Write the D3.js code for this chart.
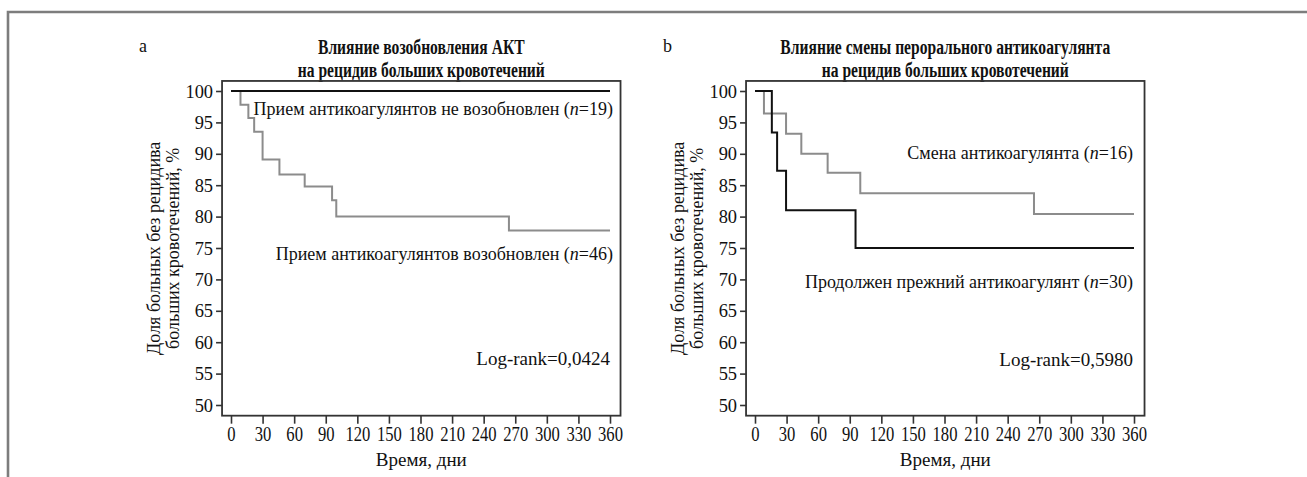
<!DOCTYPE html>
<html><head><meta charset="utf-8">
<script src="https://cdn.jsdelivr.net/npm/d3@7"></script>
<style>
html,body{margin:0;padding:0;background:#fff;}
svg{display:block;font-family:"Liberation Serif","Times New Roman",serif;}
</style></head>
<body>
<svg id="chart" width="1307" height="477"></svg>
<script>
// ---------- data ----------
const xTicks = [0,30,60,90,120,150,180,210,240,270,300,330,360];
const yTicks = [50,55,60,65,70,75,80,85,90,95,100];

// Panel a
const aTitle = ["Влияние возобновления АКТ", "на рецидив больших кровотечений"];
const aNotResumedTimes = [0, 360];
const aNotResumedSurv  = [100, 100];
const aResumedTimes = [0, 9, 16.5, 22, 30, 46, 70, 96, 100, 264, 360];
const aResumedSurv  = [100, 97.8, 95.7, 93.5, 89.1, 86.7, 84.8, 82.6, 80.0, 77.8, 77.8];
const aLabels = ["Прием антикоагулянтов не возобновлен", "Прием антикоагулянтов возобновлен"];
const aN = [19, 46];
const aLogRank = "Log-rank=0,0424";

// Panel b
const bTitle = ["Влияние смены перорального антикоагулянта", "на рецидив больших кровотечений"];
const bSwitchTimes = [0, 8.5, 29.5, 44, 69, 100, 265, 360];
const bSwitchSurv  = [100, 96.4, 93.2, 90.0, 87.0, 83.7, 80.4, 80.4];
const bContinuedTimes = [0, 16, 21, 29.5, 95.5, 360];
const bContinuedSurv  = [100, 93.4, 87.3, 81.0, 75.0, 75.0];
const bLabels = ["Смена антикоагулянта", "Продолжен прежний антикоагулянт"];
const bN = [16, 30];
const bLogRank = "Log-rank=0,5980";

const yLabelLines = ["Доля больных без рецидива", "больших кровотечений, %"];
const xLabel = "Время, дни";

// ---------- drawing ----------
const svg = d3.select("#chart");
const BLACK = "#111", GRAY = "#8c8c8c", FRAME = "#333";

// outer border
svg.append("path").attr("d","M8,477 L8,12 L1307,12")
  .attr("fill","none").attr("stroke","#7d7d7d").attr("stroke-width",2.6);

function condense(sel, f){
  sel.each(function(){
    const w = this.getComputedTextLength();
    this.setAttribute("textLength", (w*f).toFixed(2));
    this.setAttribute("lengthAdjust","spacingAndGlyphs");
  });
}

function zip(t, s){ return t.map((d,i)=>({t:d, s:s[i]})); }

function panel(opt){
  const g = svg.append("g").attr("transform", `translate(${opt.dx},0)`);
  const x = d3.scaleLinear().domain([0,360]).range([231,610]);
  const y = d3.scaleLinear().domain([50,100]).range([405,91]);
  const fx0 = x(-8.5), fx1 = x(370), fy0 = y(101.6), fy1 = y(48.3);

  // panel letter
  g.append("text").attr("x",139).attr("y",52).attr("font-size",18).attr("fill","#111").text(opt.letter);

  // title
  const cx = (fx0+fx1)/2;
  const tt = g.append("g").attr("font-weight","bold").attr("font-size",20.5).attr("fill","#111").attr("text-anchor","middle");
  opt.title.forEach((s,i)=>{
    tt.append("text").attr("x",cx).attr("y",54+i*23).text(s);
  });
  condense(tt.selectAll("text"), 0.76);

  // frame
  g.append("rect").attr("x",fx0).attr("y",fy0).attr("width",fx1-fx0).attr("height",fy1-fy0)
    .attr("fill","none").attr("stroke",FRAME).attr("stroke-width",1.8);

  // y axis
  const ya = g.append("g").attr("transform",`translate(${fx0},0)`)
    .call(d3.axisLeft(y).tickValues(yTicks).tickSize(6).tickPadding(3));
  ya.attr("font-family",null).attr("font-size",null);
  ya.select(".domain").remove();
  ya.selectAll(".tick line").attr("stroke",FRAME).attr("stroke-width",1.6);
  ya.selectAll(".tick text").attr("font-size",19).attr("fill","#111");
  condense(ya.selectAll(".tick text"), 0.97);

  // x axis
  const xa = g.append("g").attr("transform",`translate(0,${fy1})`)
    .call(d3.axisBottom(x).tickValues(xTicks).tickSize(8).tickPadding(3));
  xa.attr("font-family",null).attr("font-size",null);
  xa.select(".domain").remove();
  xa.selectAll(".tick line").attr("stroke",FRAME).attr("stroke-width",1.6);
  xa.selectAll(".tick text").attr("font-size",20).attr("fill","#111");
  condense(xa.selectAll(".tick text"), 0.83);

  // x label
  g.append("text").attr("x",cx).attr("y",466).attr("text-anchor","middle")
    .attr("font-size",19).attr("fill","#111").text(xLabel);

  // y label
  const yl = g.append("g").attr("transform",`translate(0,${(fy0+fy1)/2}) rotate(-90)`)
    .attr("text-anchor","middle").attr("font-size",18).attr("fill","#111");
  yLabelLines.forEach((s,i)=>{
    yl.append("text").attr("x",0).attr("y",160+i*18.5).text(s);
  });

  // curves
  const line = d3.line().x(d=>x(d.t)).y(d=>y(d.s)).curve(d3.curveStepAfter);
  opt.curves.forEach(c=>{
    g.append("path").datum(zip(c.t,c.s)).attr("d",line)
      .attr("fill","none").attr("stroke",c.color).attr("stroke-width",2);
  });

  // annotations
  opt.notes.forEach(n=>{
    const t = g.append("text").attr("x",n.x).attr("y",n.y).attr("text-anchor","end")
      .attr("font-size",n.size).attr("fill","#111");
    if(n.n !== undefined){
      t.append("tspan").text(n.text + " (");
      t.append("tspan").attr("font-style","italic").text("n");
      t.append("tspan").text("=" + n.n + ")");
    } else t.text(n.text);
  });
}

panel({
  dx:0, letter:"a", title:aTitle,
  curves:[
    {t:aResumedTimes, s:aResumedSurv, color:GRAY},
    {t:aNotResumedTimes, s:aNotResumedSurv, color:BLACK}
  ],
  notes:[
    {text:aLabels[0], n:aN[0], x:613, y:115, size:18},
    {text:aLabels[1], n:aN[1], x:613, y:260, size:18},
    {text:aLogRank, x:610, y:365, size:19}
  ]
});
panel({
  dx:524, letter:"b", title:bTitle,
  curves:[
    {t:bSwitchTimes, s:bSwitchSurv, color:GRAY},
    {t:bContinuedTimes, s:bContinuedSurv, color:BLACK}
  ],
  notes:[
    {text:bLabels[0], n:bN[0], x:609, y:159, size:18},
    {text:bLabels[1], n:bN[1], x:609, y:288, size:18},
    {text:bLogRank, x:609, y:366, size:19}
  ]
});
</script>
</body></html>
